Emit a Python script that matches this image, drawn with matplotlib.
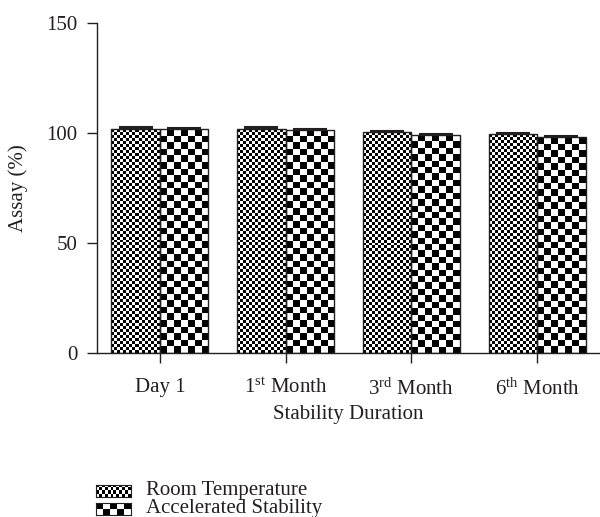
import numpy as np
import matplotlib
matplotlib.use("Agg")
import matplotlib.pyplot as plt

plt.rcParams['font.family'] = ['Liberation Serif', 'DejaVu Serif']
plt.rcParams['mathtext.fontset'] = 'custom'
plt.rcParams['mathtext.rm'] = 'Liberation Serif'
plt.rcParams['mathtext.it'] = 'Liberation Serif:italic'

categories = ['Day 1', r'1$^{\mathrm{st}}$ Month', r'3$^{\mathrm{rd}}$ Month', r'6$^{\mathrm{th}}$ Month']
series_names = ['Room Temperature', 'Accelerated Stability']
room_temp = [101.8, 101.8, 100.3, 99.5]
room_temp_err = [1.0, 1.0, 0.4, 0.5]
accelerated = [101.6, 101.4, 99.0, 98.0]
accelerated_err = [0.8, 0.4, 0.6, 0.8]
yticks = [0, 50, 100, 150]

DARK = '#231f20'
FS = 15

fig = plt.figure(figsize=(6.0, 5.17), dpi=100)
ax = fig.add_axes([97/600, 1 - 353/517, 1 - 97/600, (353 - 23)/517])
ax.set_xlim(-0.5, 3.5)
ax.set_ylim(0, 150)

x = np.arange(len(categories))
w = 0.385


def checker_img(nx, ny):
    ii, jj = np.meshgrid(np.arange(nx), np.arange(ny))
    return ((ii + jj) % 2).astype(float)


def fill_checker(ax, patches, cell_px):
    fig.canvas.draw()
    for p in patches:
        x0, y0 = p.get_x(), p.get_y()
        x1, y1 = x0 + p.get_width(), y0 + p.get_height()
        (dx0, dy0), (dx1, dy1) = ax.transData.transform([(x0, y0), (x1, y1)])
        nx = max(1, int(round(abs(dx1 - dx0) / cell_px)))
        ny = max(1, int(round(abs(dy1 - dy0) / cell_px)))
        img = checker_img(nx, ny)
        im = ax.imshow(img, extent=(x0, x1, y0, y1), origin='lower', cmap='gray',
                       vmin=0, vmax=1, interpolation='nearest', aspect='auto', zorder=2)
        im.set_clip_path(p)


bars_rt = ax.bar(x - w/2, room_temp, w, facecolor='white', edgecolor=DARK, linewidth=1.0, zorder=1)
bars_as = ax.bar(x + w/2, accelerated, w, facecolor='white', edgecolor=DARK, linewidth=1.0, zorder=1)
ax.errorbar(x - w/2, room_temp, yerr=[np.zeros(4), room_temp_err], fmt='none', ecolor=DARK,
            elinewidth=1.0, capsize=12, capthick=1.5, zorder=1.5)
ax.errorbar(x + w/2, accelerated, yerr=[np.zeros(4), accelerated_err], fmt='none', ecolor=DARK,
            elinewidth=1.0, capsize=12, capthick=1.5, zorder=1.5)
ax.set_xlim(-0.5, 3.5)
ax.set_ylim(0, 150)
fill_checker(ax, bars_rt, 3.0)
fill_checker(ax, bars_as, 6.5)
for p in list(bars_rt) + list(bars_as):
    p.set_zorder(3)
    p.set_facecolor('none')

ax.set_yticks(yticks)
ax.set_xticks(x)
ax.set_xticklabels(categories)
for s in ['top', 'right']:
    ax.spines[s].set_visible(False)
for s in ['left', 'bottom']:
    ax.spines[s].set_color(DARK)
    ax.spines[s].set_linewidth(1.0)
ax.tick_params(axis='both', colors=DARK, labelcolor=DARK, labelsize=FS, length=7.3, width=1.0)
ax.tick_params(axis='x', pad=11)
ax.tick_params(axis='y', pad=7)
ax.set_xlabel('Stability Duration', fontsize=FS, color=DARK, labelpad=4)
ax.set_ylabel('Assay (%)', fontsize=FS, color=DARK)
ax.yaxis.set_label_coords(-0.137, 0.5)

# legend (manual, below the chart)
leg_rows = [(series_names[0], 3.0, 491), (series_names[1], 6.5, 509)]
for name, cell, yc in leg_rows:
    hx0, hx1 = 96, 131
    hh = 12
    lax = fig.add_axes([hx0/600, 1 - (yc + hh/2)/517, (hx1 - hx0)/600, hh/517])
    nx = int(round((hx1 - hx0)/cell))
    ny = max(1, int(round(hh/cell)))
    lax.imshow(checker_img(nx, ny), cmap='gray', vmin=0, vmax=1, interpolation='nearest', aspect='auto')
    lax.set_xticks([]); lax.set_yticks([])
    for s in lax.spines.values():
        s.set_color(DARK); s.set_linewidth(0.8)
    fig.text(146/600, 1 - yc/517, name, fontsize=FS, color=DARK, va='center', ha='left')

fig.savefig('out.png', dpi=100)
